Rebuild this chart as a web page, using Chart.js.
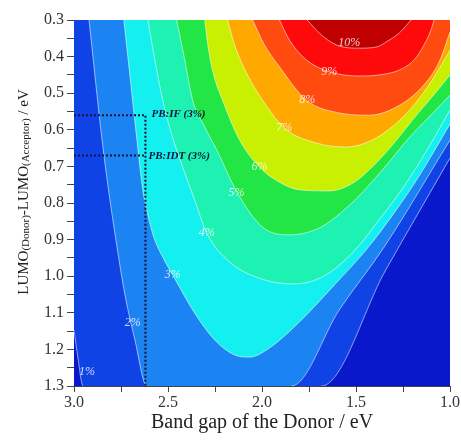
<!DOCTYPE html>
<html>
<head>
<meta charset="utf-8">
<script src="https://cdn.jsdelivr.net/npm/chart.js@4/dist/chart.umd.min.js"></script>
<style>
  html, body { margin: 0; padding: 0; background: #fff; }
</style>
</head>
<body>
<canvas id="myChart" width="461" height="442"></canvas>
<script>
// -----------------------------------------------------------------------------
// axes
const xMajorTicks = [3.0, 2.5, 2.0, 1.5, 1.0];
const yMajorTicks = [0.3, 0.4, 0.5, 0.6, 0.7, 0.8, 0.9, 1.0, 1.1, 1.2, 1.3];

// contour levels and band colours (lowest band first)
const levels = ["1%", "2%", "3%", "4%", "5%", "6%", "7%", "8%", "9%", "10%"];
const bandColors = ["#0a18cc", "#0f43e6", "#1c84f2", "#14f0f0", "#1ef2b2", "#22e646",
                    "#c8f000", "#ffa800", "#ff4a10", "#ff0a0a", "#c00000"];

// contour lines: band gap (x) / LUMO offset (y)
const c1x = [3.0, 2.979, 2.952, 1.684, 1.345, 1.0];
const c1y = [1.147, 1.223, 1.3, 1.3, 0.986, 0.677];
const c2x = [2.920, 2.889, 2.857, 2.820, 2.777, 2.729, 2.676, 2.613, 1.843, 1.589, 1.350, 1.0];
const c2y = [0.300, 0.450, 0.601, 0.751, 0.901, 1.051, 1.174, 1.300, 1.300, 1.092, 0.920, 0.628];
const c3x = [2.735, 2.703, 2.671, 2.634, 2.607, 2.576, 2.528, 2.469, 2.358, 2.252, 2.146, 2.066, 1.960, 1.801, 1.615, 1.446, 1.297, 1.164, 1.0];
const c3y = [0.300, 0.450, 0.601, 0.764, 0.833, 0.893, 0.948, 1.002, 1.101, 1.174, 1.215, 1.221, 1.196, 1.125, 1.024, 0.928, 0.827, 0.726, 0.584];
const c4x = [2.607, 2.570, 2.528, 2.480, 2.422, 2.358, 2.294, 2.172, 1.987, 1.828, 1.668, 1.509, 1.377, 1.244, 1.122, 1.0];
const c4y = [0.300, 0.409, 0.519, 0.614, 0.702, 0.792, 0.882, 0.961, 1.010, 1.021, 0.999, 0.931, 0.846, 0.754, 0.655, 0.546];
const c5x = [2.454, 2.411, 2.369, 2.310, 2.241, 2.130, 1.997, 1.854, 1.695, 1.552, 1.430, 1.324, 1.218, 1.111, 1.0];
const c5y = [0.300, 0.409, 0.519, 0.587, 0.655, 0.773, 0.866, 0.887, 0.868, 0.814, 0.751, 0.688, 0.622, 0.565, 0.505];
const c6x = [2.305, 2.284, 2.257, 2.210, 2.119, 2.013, 1.907, 1.801, 1.642, 1.509, 1.403, 1.297, 1.191, 1.095, 1.0];
const c6y = [0.300, 0.382, 0.450, 0.519, 0.628, 0.702, 0.743, 0.764, 0.767, 0.743, 0.696, 0.636, 0.568, 0.510, 0.450];
const c7x = [2.183, 2.146, 2.077, 1.997, 1.881, 1.711, 1.552, 1.414, 1.297, 1.191, 1.095, 1.0];
const c7y = [0.300, 0.368, 0.450, 0.519, 0.595, 0.636, 0.647, 0.628, 0.587, 0.532, 0.464, 0.382];
const c8x = [2.050, 1.987, 1.907, 1.764, 1.589, 1.430, 1.286, 1.149, 1.058, 1.0];
const c8y = [0.300, 0.368, 0.428, 0.519, 0.554, 0.560, 0.538, 0.483, 0.415, 0.333];
const c9x = [1.907, 1.854, 1.775, 1.695, 1.589, 1.483, 1.377, 1.271, 1.191, 1.138, 1.101, 1.085];
const c9y = [0.300, 0.355, 0.404, 0.431, 0.448, 0.453, 0.450, 0.437, 0.409, 0.368, 0.327, 0.300];
const c10x = [1.759, 1.695, 1.605, 1.483, 1.393, 1.324, 1.271, 1.207];
const c10y = [0.300, 0.336, 0.368, 0.377, 0.374, 0.355, 0.336, 0.300];

// where the level labels sit
const labelX = [2.931, 2.687, 2.475, 2.294, 2.135, 2.013, 1.881, 1.759, 1.642, 1.536];
const labelY = [1.262, 1.128, 0.997, 0.882, 0.773, 0.702, 0.595, 0.519, 0.442, 0.363];

// the two marked polymers
const pbIfX = [3.0, 2.62, 2.62];
const pbIfY = [0.56, 0.56, 1.3];
const pbIdtX = [3.0, 2.62];
const pbIdtY = [0.67, 0.67];
const notes = ["PB:IF (3%)", "PB:IDT (3%)"];
const noteX = [2.588, 2.604];
const noteY = [0.558, 0.672];

// -----------------------------------------------------------------------------
const contours = [[c1x, c1y], [c2x, c2y], [c3x, c3y], [c4x, c4y], [c5x, c5y],
                  [c6x, c6y], [c7x, c7y], [c8x, c8y], [c9x, c9y], [c10x, c10y]];
const lineColor = "rgba(255,255,255,0.55)";
const toPoints = (xs, ys) => xs.map((x, i) => ({ x: x, y: ys[i] }));

const datasets = [];
// filled bands (one polygon each, no border so there are no seams)
contours.forEach(([xs, ys], i) => {
  datasets.push({
    label: levels[i],
    data: toPoints(xs, ys),
    showLine: true,
    pointRadius: 0,
    backgroundColor: bandColors[i + 1],
    borderWidth: 0,
    fill: { value: 0.3 },
    cubicInterpolationMode: "monotone",
    order: 30 - i,
  });
});
// the contour lines on top, skipping the parts that run along the bottom edge
contours.forEach(([xs, ys], i) => {
  datasets.push({
    data: toPoints(xs, ys),
    showLine: true,
    pointRadius: 0,
    borderColor: lineColor,
    borderWidth: 1,
    fill: false,
    cubicInterpolationMode: "monotone",
    order: 10,
    segment: {
      borderColor: (c) => (c.p0.parsed.y >= 1.3 && c.p1.parsed.y >= 1.3 ? "rgba(0,0,0,0)" : lineColor),
    },
  });
});

[[pbIfX, pbIfY], [pbIdtX, pbIdtY]].forEach(([xs, ys]) => {
  datasets.push({
    data: toPoints(xs, ys),
    showLine: true,
    pointRadius: 0,
    borderColor: "#15153a",
    borderWidth: 2,
    borderDash: [2, 2],
    fill: false,
    order: 0,
  });
});

function withMinor(major) {
  const out = [];
  major.forEach((v, i) => {
    out.push({ value: v });
    if (i < major.length - 1) out.push({ value: (v + major[i + 1]) / 2 });
  });
  return out;
}
const isMajor = (list, v) => list.some((t) => Math.abs(t - v) < 1e-6);

const paintPlugin = {
  id: "paint",
  beforeDatasetsDraw(chart) {
    const { ctx, chartArea: a } = chart;
    ctx.save();
    ctx.fillStyle = bandColors[0];
    ctx.fillRect(a.left, a.top, a.right - a.left, a.bottom - a.top);
    ctx.restore();
  },
  afterDatasetsDraw(chart) {
    const { ctx } = chart;
    const sx = chart.scales.x, sy = chart.scales.y;
    ctx.save();
    ctx.font = 'italic 12px "Liberation Serif"';
    ctx.fillStyle = "rgba(255,255,255,0.8)";
    ctx.textAlign = "center";
    ctx.textBaseline = "middle";
    levels.forEach((t, i) => ctx.fillText(t, sx.getPixelForValue(labelX[i]), sy.getPixelForValue(labelY[i])));
    ctx.font = 'bold italic 11px "Liberation Serif"';
    ctx.fillStyle = "#12123a";
    ctx.textAlign = "left";
    notes.forEach((t, i) => ctx.fillText(t, sx.getPixelForValue(noteX[i]), sy.getPixelForValue(noteY[i])));
    ctx.restore();
  },
  afterDraw(chart) {
    // y title with smaller (Donor)/(Acceptor) parts
    const { ctx } = chart;
    const parts = [["LUMO", 15, 0], ["(Donor)", 11, 1], ["-LUMO", 15, 0], ["(Acceptor)", 11, 1], [" / eV", 15, 0]];
    ctx.save();
    ctx.fillStyle = "#222";
    ctx.textBaseline = "alphabetic";
    ctx.textAlign = "left";
    let total = 0;
    parts.forEach((p) => {
      ctx.font = p[1] + 'px "Liberation Serif"';
      total += ctx.measureText(p[0]).width;
    });
    ctx.translate(28, 192);
    ctx.rotate(-Math.PI / 2);
    let pos = -total / 2;
    parts.forEach((p) => {
      ctx.font = p[1] + 'px "Liberation Serif"';
      ctx.fillText(p[0], pos, p[2]);
      pos += ctx.measureText(p[0]).width;
    });
    ctx.restore();
  },
};

const tickFont = { family: "Liberation Serif", size: 16 };

new Chart(document.getElementById("myChart"), {
  type: "scatter",
  data: { datasets: datasets },
  options: {
    responsive: false,
    animation: false,
    layout: { padding: { top: 20, right: 10, left: 0, bottom: 0 } },
    plugins: { legend: { display: false }, tooltip: { enabled: false } },
    scales: {
      x: {
        type: "linear",
        min: 1.0,
        max: 3.0,
        reverse: true,
        afterBuildTicks: (s) => { s.ticks = withMinor(xMajorTicks); },
        afterFit: (s) => { s.height = 56; },
        ticks: {
          autoSkip: false,
          maxRotation: 0,
          padding: 1,
          color: "#333",
          font: tickFont,
          callback: (v) => (isMajor(xMajorTicks, v) ? v.toFixed(1) : ""),
        },
        grid: { drawOnChartArea: false, tickLength: 6, color: "#444" },
        border: { display: true, color: "#444" },
        title: {
          display: true,
          text: "Band gap of the Donor / eV",
          color: "#222",
          font: { family: "Liberation Serif", size: 20 },
          padding: { top: 0, bottom: 7 },
        },
      },
      y: {
        type: "linear",
        min: 0.3,
        max: 1.3,
        reverse: true,
        afterBuildTicks: (s) => { s.ticks = withMinor(yMajorTicks); },
        afterFit: (s) => { s.width = 74; },
        ticks: {
          autoSkip: false,
          padding: 3,
          color: "#333",
          font: tickFont,
          callback: (v) => (isMajor(yMajorTicks, v) ? v.toFixed(1) : ""),
        },
        grid: { drawOnChartArea: false, tickLength: 7, color: "#444" },
        border: { display: true, color: "#444" },
      },
    },
  },
  plugins: [paintPlugin],
});
</script>
</body>
</html>
